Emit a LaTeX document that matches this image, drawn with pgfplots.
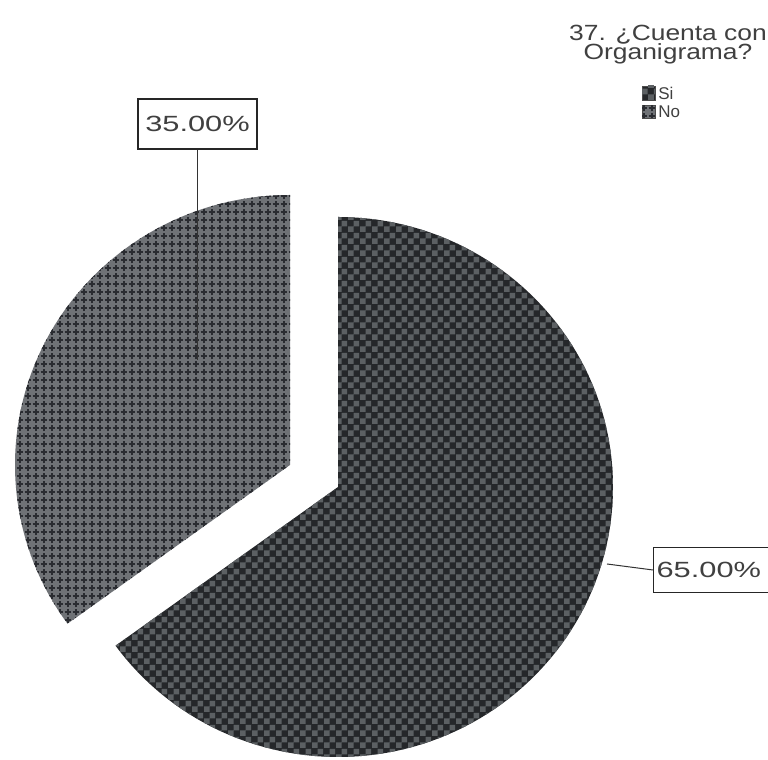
\documentclass[border=0pt]{standalone}
\usepackage{fontspec}
\setmainfont{Liberation Sans}
\usepackage{pgfplots}
\pgfplotsset{compat=1.18}
\usetikzlibrary{patterns}
\definecolor{siBase}{HTML}{25272A}
\definecolor{siLight}{HTML}{5C6063}
\definecolor{noBase}{HTML}{6F7276}
\definecolor{noDark}{HTML}{2A2C31}
\pgfdeclarepatternformonly{sicheck}{\pgfpointorigin}{\pgfqpoint{6pt}{6pt}}{\pgfqpoint{6pt}{6pt}}{%
  \pgfpathrectangle{\pgfpointorigin}{\pgfqpoint{3pt}{3pt}}%
  \pgfpathrectangle{\pgfqpoint{3pt}{3pt}}{\pgfqpoint{3pt}{3pt}}%
  \pgfusepath{fill}}
\pgfdeclarepatternformonly{nocross}{\pgfqpoint{-0.5pt}{-0.5pt}}{\pgfqpoint{4.5pt}{4.5pt}}{\pgfqpoint{4pt}{4pt}}{%
  \pgfsetlinewidth{1.05pt}%
  \pgfpathmoveto{\pgfqpoint{2pt}{0.3pt}}\pgfpathlineto{\pgfqpoint{2pt}{3.7pt}}%
  \pgfpathmoveto{\pgfqpoint{0.3pt}{2pt}}\pgfpathlineto{\pgfqpoint{3.7pt}{2pt}}%
  \pgfusepath{stroke}}
% data (percent)
\def\pSi{65}
\def\pNo{35}
\pgfmathsetmacro\endSi{90-3.6*\pSi}
\pgfmathsetmacro\endNo{90+3.6*\pNo}
\begin{document}
\begin{tikzpicture}
\begin{axis}[scale only axis, width=384pt, height=380pt,
  xmin=0, xmax=768, ymin=0, ymax=760, hide axis, clip=false]
% Si slice
\path[fill=siBase, postaction={pattern=sicheck, pattern color=siLight}]
  (axis cs:338,273) -- +(0,135pt) arc[start angle=90, end angle=\endSi, x radius=137.5pt, y radius=135pt] -- cycle;
% No slice (exploded)
\path[fill=noBase, postaction={pattern=nocross, pattern color=noDark}]
  (axis cs:290,295) -- +(0,135pt) arc[start angle=90, end angle=\endNo, x radius=137.5pt, y radius=135pt] -- cycle;
% leader lines
\draw[line width=0.5pt, black!80] (axis cs:197,611) -- (axis cs:197,400);
\draw[line width=0.5pt, black!80] (axis cs:607,196) -- (axis cs:653,190);
% labels
\node[draw=black!85, line width=0.6pt, fill=white, inner sep=0pt, minimum width=59.5pt, minimum height=25pt]
  at (axis cs:197.5,636) {\fontsize{11}{13}\selectfont\color{black!75}\scalebox{1.4}[1]{35.00\%}};
\node[draw=black!85, line width=0.6pt, fill=white, inner ysep=0pt, inner xsep=1.5pt, text width=62pt, align=left, minimum height=22.5pt, anchor=west]
  at (axis cs:653,190) {\fontsize{11}{13}\selectfont\color{black!75}\scalebox{1.4}[1]{65.00\%}};
% legend
\node[anchor=base, inner sep=0pt, xscale=1.2] at (axis cs:668,719) {\fontsize{11}{13}\selectfont\color{black!75}37. ¿Cuenta con};
\node[anchor=base, inner sep=0pt, xscale=1.2] at (axis cs:668,700) {\fontsize{11}{13}\selectfont\color{black!75}Organigrama?};
\path[fill=siBase, postaction={pattern=sicheck, pattern color=siLight}, draw=black!70, line width=0.3pt]
  (axis cs:642,660) rectangle (axis cs:655,674);
\path[fill=noBase, postaction={pattern=nocross, pattern color=noDark}, draw=black!70, line width=0.3pt]
  (axis cs:642,642) rectangle (axis cs:655,655);
\node[anchor=base west, inner sep=0pt] at (axis cs:658,660) {\fontsize{8.5}{9}\selectfont\color{black!75}Si};
\node[anchor=base west, inner sep=0pt] at (axis cs:658,642) {\fontsize{8.5}{9}\selectfont\color{black!75}No};
\end{axis}
\pgfresetboundingbox
\useasboundingbox (0,0) rectangle (384pt,380pt);
\end{tikzpicture}
\end{document}
